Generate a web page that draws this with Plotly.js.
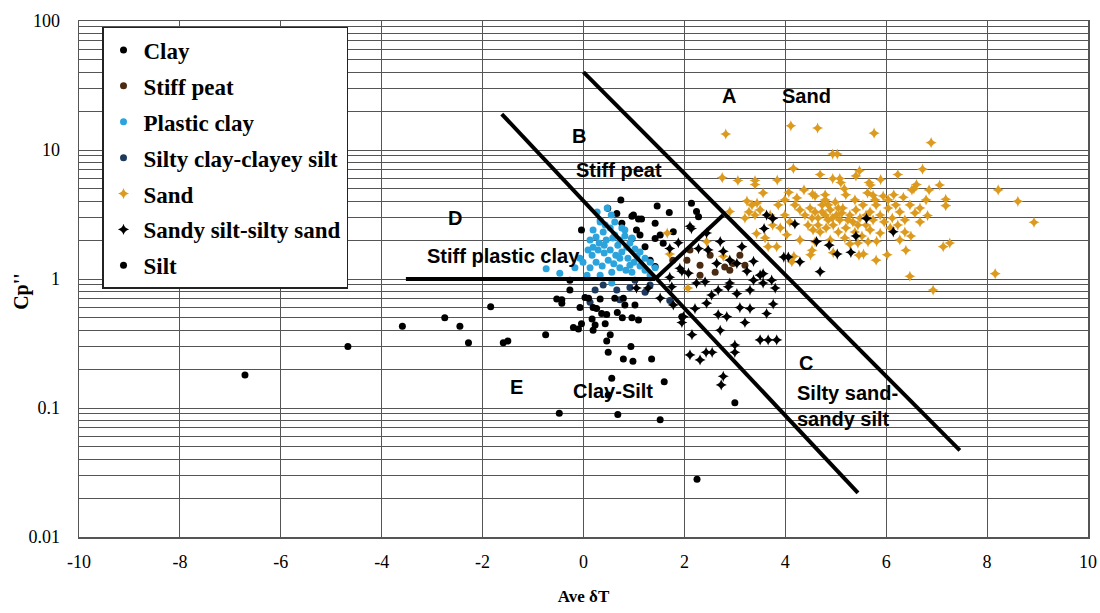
<!DOCTYPE html>
<html>
<head>
<meta charset="utf-8">
<script src="https://cdn.plot.ly/plotly-3.0.1.min.js"></script>
<style>html,body{margin:0;padding:0;background:#fff;}#chart{width:1100px;height:613px;}</style>
</head>
<body>
<div id="chart"></div>
<script>
// ---- data (x = Ave δT, y = Cp'') ----
const clayX = [0.74,0.48,0.66,0.99,1.15,1.46,1.70,1.42,-0.04,0.76,0.96,1.09,1.78,1.52,1.42,1.58,1.05,1.12,0.96,2.14,2.24,2.28,1.22,1.32,1.42,-0.27];
const clayY = [4.10,3.53,3.22,3.13,2.92,3.68,3.27,2.70,2.40,2.70,3.07,2.92,2.32,2.19,2.06,1.89,2.40,2.19,2.06,3.86,3.33,3.04,1.78,1.40,1.25,0.98];

const peatX = [1.77,2.05,2.31,2.80,2.90,2.96,2.11,2.51,2.31,2.61,3.20,3.10];
const peatY = [1.40,1.40,1.28,1.24,1.17,1.32,1.68,1.53,1.07,1.13,1.28,1.53];

const plasticX = [0.47,0.33,0.19,0.13,0.25,0.39,0.53,0.62,0.72,0.82,0.92,1.02,1.12,1.22,1.32,0.09,0.17,0.29,0.41,0.53,0.64,0.76,0.88,1.00,1.12,0.25,0.37,0.49,0.60,0.72,0.84,0.96,0.13,0.07,0.33,0.56,0.68,0.45,0.31,0.19,0.58,0.86,1.06,1.22,1.32,1.42,-0.47,-0.74,-0.17,-0.07,-0.01,0.33,0.55,0.76,0.27,0.43,0.62,0.82,0.96,0.41,0.72,0.92,0.56];
const plasticY = [3.55,2.87,2.40,2.01,2.12,2.31,2.49,2.19,2.01,2.15,1.90,1.71,1.62,1.45,1.35,1.68,1.53,1.68,1.83,1.68,1.53,1.62,1.45,1.35,1.26,1.35,1.26,1.40,1.31,1.22,1.17,1.13,1.22,1.07,1.07,1.13,1.83,2.01,1.90,1.76,2.08,1.76,1.51,1.17,1.07,1.22,1.11,1.20,1.22,1.45,1.35,2.77,3.13,2.49,3.31,2.62,2.77,2.40,2.08,1.59,1.45,1.28,0.93];

const siltyClayX = [0.39,0.66,0.92,1.22,0.72,0.23,1.02,1.32,1.71,0.13];
const siltyClayY = [0.90,0.82,0.86,0.79,0.69,0.82,0.98,0.90,0.68,0.66];

const sandX = [2.82,4.11,4.64,5.76,6.89,4.94,5.03,4.16,4.69,5.47,5.40,6.23,6.72,2.75,3.06,3.40,3.40,3.84,4.94,5.08,5.10,5.66,5.69,5.89,6.60,6.55,6.51,6.85,7.06,8.22,8.61,8.93,8.16,6.93,6.47,6.39,7.13,7.26,6.79,7.18,7.18,6.82,6.49,6.02,5.80,5.55,5.46,5.81,4.95,4.53,4.50,4.17,4.13,4.03,4.07,3.56,4.37,4.54,4.59,4.79,5.17,5.20,5.63,5.74,5.94,6.15,6.34,3.43,3.66,3.83,
  4.29,4.39,4.49,4.59,4.65,4.73,4.79,4.85,4.89,4.95,5.01,5.08,5.14,5.20,5.28,5.34,5.40,5.48,5.54,5.60,5.68,5.74,5.80,5.88,5.96,6.04,6.12,6.19,6.27,6.37,6.47,6.57,6.67,4.45,4.55,4.69,4.81,5.05,5.18,5.38,5.52,5.68,5.88,6.08,6.23,3.99,4.09,4.19,3.90,3.70,3.75,3.86,3.60,4.29,4.59,4.89,5.28,5.44,5.64,6.27,6.37,6.67,4.79,4.99,5.38,5.78,6.04,4.23,3.99,
  3.24,3.34,3.44,3.28,3.40,3.50,1.66,2.44,2.77,2.07,2.90,3.20,1.71,4.73,4.93,5.12,5.24,5.05,4.85,4.65,5.44,5.60,4.53];
const sandY = [13.3,15.4,14.8,13.5,11.4,9.3,9.3,7.2,6.45,6.9,6.3,6.45,7.1,6.1,5.8,5.8,5.4,5.85,6.0,6.0,5.6,5.6,5.35,5.9,5.4,5.0,4.9,4.9,5.35,4.9,4.0,2.75,1.1,0.82,1.05,1.67,1.78,1.9,4.1,4.15,3.7,3.1,2.15,1.54,1.40,1.56,1.53,1.96,1.60,1.67,1.54,1.5,1.36,2.2,4.7,4.65,4.9,4.55,4.4,4.5,5.0,4.5,4.65,4.45,4.4,4.5,4.3,2.25,1.78,1.78,
  3.43,3.13,3.55,3.31,2.97,3.75,3.13,2.87,3.43,2.62,3.13,2.87,3.55,2.49,3.13,2.77,3.43,2.97,3.75,2.62,3.31,2.87,3.75,3.13,2.77,3.55,2.97,3.75,3.31,2.87,3.75,3.25,3.55,2.62,2.40,2.31,2.49,2.31,2.08,2.31,2.15,2.40,2.27,2.49,2.62,3.13,2.77,3.75,2.49,3.13,2.62,3.75,2.08,2.01,1.94,2.01,1.87,1.90,1.94,2.01,2.31,2.77,4.10,3.95,4.10,4.10,4.10,4.25,4.10,
  4.02,3.75,3.88,3.31,3.13,3.43,2.27,1.95,1.50,0.85,3.33,2.97,1.56,3.31,2.97,3.25,2.87,3.55,3.75,2.62,2.62,3.13,2.97];

const sandySiltX = [2.14,1.88,1.71,2.28,2.47,2.71,2.77,2.90,2.64,3.14,3.37,3.50,3.56,3.73,3.80,3.30,3.04,2.87,2.67,2.54,2.41,2.24,2.08,1.91,1.71,1.52,1.78,1.98,2.21,2.67,2.84,3.10,3.30,3.63,3.76,1.05,1.28,2.11,2.44,3.04,3.24,3.37,3.56,2.90,2.44,1.95,1.75,4.19,5.61,5.40,4.87,5.03,5.30,4.62,4.69,4.06,4.29,6.14,3.63,3.75,3.58,3.50,3.66,3.83,2.77,2.73,3.00,3.00,2.43,2.11,2.55,2.31,1.95,2.15,2.71,3.20,3.97];
const sandySiltY = [2.46,1.91,1.72,1.72,1.68,1.95,1.64,1.40,1.32,1.78,1.37,1.07,0.93,0.98,0.85,0.82,0.77,0.87,0.82,0.75,0.95,0.93,1.11,1.21,1.03,0.71,0.63,0.51,0.59,0.53,0.51,0.60,0.59,0.54,0.64,0.85,0.85,2.56,2.27,1.32,1.15,0.98,1.10,0.93,0.65,1.15,0.87,2.67,2.95,2.15,1.83,1.56,1.61,1.95,1.14,1.48,1.36,2.32,3.13,2.95,2.46,0.337,0.337,0.337,0.176,0.151,0.308,0.27,0.27,0.258,0.27,0.236,0.46,0.37,0.40,0.46,1.48];

const siltX = [-0.27,-0.07,-0.53,-0.43,-1.84,0.03,0.10,0.19,0.33,0.62,0.79,0.82,1.02,0.26,0.36,0.46,0.67,0.77,0.96,1.09,-2.75,-3.59,-2.45,-2.28,-1.59,-1.50,-0.75,-0.20,-0.10,-0.04,0.17,0.23,0.19,0.43,0.53,0.46,0.49,0.94,0.79,0.98,1.35,1.60,0.56,0.49,-0.48,0.68,1.52,-6.71,-4.67,-0.43,1.95,3.00,2.25];
const siltY = [0.82,0.60,0.70,0.65,0.61,0.72,0.71,0.60,0.70,0.71,0.71,0.63,0.63,0.59,0.54,0.53,0.55,0.50,0.50,0.48,0.50,0.43,0.43,0.32,0.32,0.33,0.37,0.42,0.41,0.45,0.49,0.44,0.40,0.45,0.37,0.33,0.27,0.30,0.24,0.23,0.24,0.16,0.17,0.126,0.091,0.089,0.081,0.18,0.30,0.69,0.51,0.11,0.028];

// zone boundary lines
const boundaryAC_x = [0.0, 7.46];
const boundaryAC_y = [40.2, 0.047];
const boundaryBC_x = [-1.62, 5.44];
const boundaryBC_y = [19.0, 0.022];
const boundaryDE_x = [-3.52, 1.42];
const boundaryDE_y = [1, 1];
const boundaryBpeat_x = [1.42, 2.77];
const boundaryBpeat_y = [1, 3.13];

// axis ticks
const xTicks = [-10, -8, -6, -4, -2, 0, 2, 4, 6, 8, 10];
const yTicks = [0.01, 0.1, 1, 10, 100];

const SERIF = 'Liberation Serif';
const SANS = 'Liberation Sans';

function pts(name, x, y, color, symbol, size, grp) {
  return {
    type: 'scatter', mode: 'markers', name: name, x: x, y: y,
    legendgroup: grp,
    marker: {color: color, symbol: symbol, size: size, line: {width: 0}},
    hoverinfo: 'x+y+name'
  };
}
function bline(x, y) {
  return {type: 'scatter', mode: 'lines', x: x, y: y, showlegend: false,
    hoverinfo: 'skip', line: {color: '#000', width: 4}};
}

const data = [
  pts('Clay', clayX, clayY, '#000000', 'circle', 7, 'g1'),
  pts('Stiff peat', peatX, peatY, '#4a2a10', 'circle', 7, 'g2'),
  pts('Plastic clay', plasticX, plasticY, '#2ba3dc', 'circle', 7, 'g3'),
  pts('Silty clay-clayey silt', siltyClayX, siltyClayY, '#1d3a5e', 'circle', 7, 'g4'),
  pts('Sand', sandX, sandY, '#dc9a1e', 'star-diamond', 8, 'g5'),
  pts('Sandy silt-silty sand', sandySiltX, sandySiltY, '#000000', 'star-diamond', 8, 'g6'),
  pts('Silt', siltX, siltY, '#000000', 'circle', 7, 'g7'),
  bline(boundaryAC_x, boundaryAC_y),
  bline(boundaryBC_x, boundaryBC_y),
  bline(boundaryDE_x, boundaryDE_y),
  bline(boundaryBpeat_x, boundaryBpeat_y)
];

function lab(text, x, ylog) {
  return {text: text, x: x, y: ylog, xref: 'x', yref: 'y', xanchor: 'left', yanchor: 'middle',
    showarrow: false, align: 'left', font: {family: SANS, size: 20, color: '#000', weight: 'bold'}};
}

const layout = {
  width: 1100, height: 613,
  margin: {l: 79, r: 12, t: 21, b: 76, pad: 0},
  paper_bgcolor: '#fff', plot_bgcolor: '#fff',
  showlegend: true,
  legend: {
    x: 0.0228, y: 0.9884, xanchor: 'left', yanchor: 'top',
    bgcolor: '#fff', bordercolor: '#222', borderwidth: 1.5,
    font: {family: SERIF, size: 23, color: '#000', weight: 'bold'},
    tracegroupgap: 3
  },
  xaxis: {
    range: [-10, 10], tickmode: 'array', tickvals: xTicks, ticktext: xTicks.map(String),
    showgrid: true, gridcolor: '#555', gridwidth: 1,
    zeroline: false, showline: true, mirror: true, linecolor: '#555', linewidth: 1.5,
    ticks: '', ticklabelstandoff: 8,
    tickfont: {family: SERIF, size: 18, color: '#000'},
    title: {text: 'Ave δT', standoff: 19, font: {family: SERIF, size: 17, color: '#000', weight: 'bold'}}
  },
  yaxis: {
    type: 'log', range: [-2, 2], tickmode: 'array', tickvals: yTicks, ticktext: yTicks.map(String),
    showgrid: true, gridcolor: '#555', gridwidth: 1,
    minor: {dtick: 'D1', showgrid: true, gridcolor: '#555', gridwidth: 1, ticks: ''},
    zeroline: false, showline: true, mirror: true, linecolor: '#555', linewidth: 1.5,
    ticks: '', ticklabelstandoff: 14,
    tickfont: {family: SERIF, size: 18, color: '#000'}
  },
  annotations: [
    {text: "Cp''", xref: 'paper', yref: 'paper', x: -0.0565, y: 0.477, xanchor: 'center', yanchor: 'middle',
     textangle: -90, showarrow: false, font: {family: SERIF, size: 20, color: '#000', weight: 'bold'}},
    lab('A', 2.71, 1.419),
    lab('Sand', 3.89, 1.419),
    lab('B', -0.27, 1.109),
    lab('Stiff peat', -0.19, 0.845),
    lab('D', -2.73, 0.473),
    lab('Stiff plastic clay', -3.14, 0.18),
    lab('E', -1.50, -0.837),
    lab('Clay-Silt', -0.25, -0.868),
    lab('C', 4.23, -0.648),
    lab('Silty sand-<br>sandy silt', 4.19, -0.984)
  ]
};

Plotly.newPlot('chart', data, layout, {displayModeBar: false, staticPlot: true});
</script>
</body>
</html>
